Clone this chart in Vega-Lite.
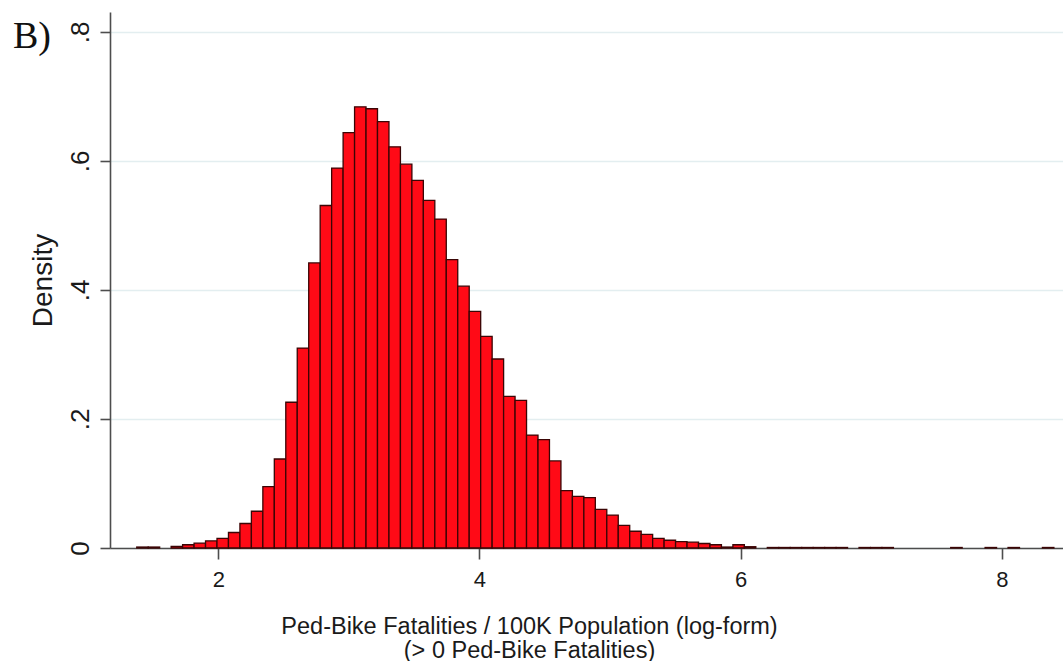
{
  "$schema": "https://vega.github.io/schema/vega-lite/v6.json",
  "width": 953,
  "height": 536,
  "autosize": "none",
  "padding": {"left": 110, "top": 12, "right": 0, "bottom": 113},
  "background": "white",
  "title": {
    "text": "B)",
    "font": "Liberation Serif",
    "fontSize": 38,
    "fontWeight": "normal",
    "color": "#111111",
    "anchor": "start",
    "frame": "group",
    "orient": "top",
    "baseline": "alphabetic",
    "dx": -97,
    "dy": 74,
    "offset": 0
  },
  "data": {
    "values": [
      {"lo": 1.3754, "hi": 1.4632, "density": 0.0015},
      {"lo": 1.4632, "hi": 1.551, "density": 0.0015},
      {"lo": 1.6388, "hi": 1.7266, "density": 0.0025},
      {"lo": 1.7266, "hi": 1.8144, "density": 0.005},
      {"lo": 1.8144, "hi": 1.9022, "density": 0.0075},
      {"lo": 1.9022, "hi": 1.99, "density": 0.011},
      {"lo": 1.99, "hi": 2.0778, "density": 0.015},
      {"lo": 2.0778, "hi": 2.1656, "density": 0.024},
      {"lo": 2.1656, "hi": 2.2534, "density": 0.038},
      {"lo": 2.2534, "hi": 2.3412, "density": 0.057},
      {"lo": 2.3412, "hi": 2.429, "density": 0.095},
      {"lo": 2.429, "hi": 2.5168, "density": 0.138},
      {"lo": 2.5168, "hi": 2.6046, "density": 0.226},
      {"lo": 2.6046, "hi": 2.6924, "density": 0.31},
      {"lo": 2.6924, "hi": 2.7802, "density": 0.442},
      {"lo": 2.7802, "hi": 2.868, "density": 0.531},
      {"lo": 2.868, "hi": 2.9558, "density": 0.589},
      {"lo": 2.9558, "hi": 3.0436, "density": 0.644},
      {"lo": 3.0436, "hi": 3.1314, "density": 0.684},
      {"lo": 3.1314, "hi": 3.2192, "density": 0.681},
      {"lo": 3.2192, "hi": 3.307, "density": 0.661},
      {"lo": 3.307, "hi": 3.3948, "density": 0.622},
      {"lo": 3.3948, "hi": 3.4826, "density": 0.595},
      {"lo": 3.4826, "hi": 3.5704, "density": 0.57},
      {"lo": 3.5704, "hi": 3.6582, "density": 0.539},
      {"lo": 3.6582, "hi": 3.746, "density": 0.51},
      {"lo": 3.746, "hi": 3.8338, "density": 0.447},
      {"lo": 3.8338, "hi": 3.9216, "density": 0.406},
      {"lo": 3.9216, "hi": 4.0094, "density": 0.367},
      {"lo": 4.0094, "hi": 4.0972, "density": 0.328},
      {"lo": 4.0972, "hi": 4.185, "density": 0.293},
      {"lo": 4.185, "hi": 4.2728, "density": 0.235},
      {"lo": 4.2728, "hi": 4.3606, "density": 0.229},
      {"lo": 4.3606, "hi": 4.4484, "density": 0.175},
      {"lo": 4.4484, "hi": 4.5362, "density": 0.168},
      {"lo": 4.5362, "hi": 4.624, "density": 0.135},
      {"lo": 4.624, "hi": 4.7118, "density": 0.089},
      {"lo": 4.7118, "hi": 4.7996, "density": 0.08},
      {"lo": 4.7996, "hi": 4.8874, "density": 0.078},
      {"lo": 4.8874, "hi": 4.9752, "density": 0.06},
      {"lo": 4.9752, "hi": 5.063, "density": 0.051},
      {"lo": 5.063, "hi": 5.1508, "density": 0.035},
      {"lo": 5.1508, "hi": 5.2386, "density": 0.026},
      {"lo": 5.2386, "hi": 5.3264, "density": 0.021},
      {"lo": 5.3264, "hi": 5.4142, "density": 0.015},
      {"lo": 5.4142, "hi": 5.502, "density": 0.012},
      {"lo": 5.502, "hi": 5.5898, "density": 0.01},
      {"lo": 5.5898, "hi": 5.6776, "density": 0.009},
      {"lo": 5.6776, "hi": 5.7654, "density": 0.007},
      {"lo": 5.7654, "hi": 5.8532, "density": 0.005},
      {"lo": 5.8532, "hi": 5.941, "density": 0.0015},
      {"lo": 5.941, "hi": 6.0288, "density": 0.005},
      {"lo": 6.0288, "hi": 6.1166, "density": 0.002},
      {"lo": 6.2044, "hi": 6.2922, "density": 0.0008},
      {"lo": 6.2922, "hi": 6.38, "density": 0.0008},
      {"lo": 6.38, "hi": 6.4678, "density": 0.0008},
      {"lo": 6.4678, "hi": 6.5556, "density": 0.0008},
      {"lo": 6.5556, "hi": 6.6434, "density": 0.0008},
      {"lo": 6.6434, "hi": 6.7312, "density": 0.0008},
      {"lo": 6.7312, "hi": 6.819, "density": 0.0008},
      {"lo": 6.9068, "hi": 6.9946, "density": 0.0008},
      {"lo": 6.9946, "hi": 7.0824, "density": 0.0008},
      {"lo": 7.0824, "hi": 7.1702, "density": 0.0008},
      {"lo": 7.609, "hi": 7.6968, "density": 0.0008},
      {"lo": 7.8724, "hi": 7.9602, "density": 0.0008},
      {"lo": 8.048, "hi": 8.1358, "density": 0.0008},
      {"lo": 8.3114, "hi": 8.3992, "density": 0.0008}
    ]
  },
  "mark": {"type": "bar", "fill": "#ff0a16", "stroke": "#3a0505", "strokeWidth": 1.3, "opacity": 1},
  "encoding": {
    "x": {
      "field": "lo",
      "type": "quantitative",
      "scale": {"domain": [1.1706, 8.469], "nice": false, "zero": false},
      "axis": {
        "values": [2, 4, 6, 8],
        "format": "d",
        "grid": false,
        "domainColor": "#4d4d4d",
        "domainWidth": 1.6,
        "tickColor": "#4d4d4d",
        "tickWidth": 1.6,
        "tickSize": 11,
        "labelPadding": 10,
        "labelFont": "Liberation Sans",
        "labelFontSize": 22,
        "labelColor": "#1a1a1a",
        "title": ["Ped-Bike Fatalities / 100K Population (log-form)", "(> 0 Ped-Bike Fatalities)"],
        "titleFont": "Liberation Sans",
        "titleFontSize": 23.5,
        "titleFontWeight": "normal",
        "titleColor": "#1a1a1a",
        "titleLineHeight": 24,
        "titleBaseline": "alphabetic",
        "titleAlign": "center",
        "titleX": 419,
        "titleY": 85
      }
    },
    "x2": {"field": "hi"},
    "y": {
      "field": "density",
      "type": "quantitative",
      "scale": {"domain": [0, 0.831], "nice": false},
      "axis": {
        "values": [0, 0.2, 0.4, 0.6, 0.8],
        "labelExpr": "datum.value == 0 ? '0' : replace(format(datum.value, '.1f'), '0.', '.')",
        "grid": true,
        "gridColor": "#e3eef0",
        "gridWidth": 1.6,
        "domainColor": "#4d4d4d",
        "domainWidth": 1.6,
        "tickColor": "#4d4d4d",
        "tickWidth": 1.6,
        "tickSize": 10,
        "labelAngle": -90,
        "labelAlign": "center",
        "labelBaseline": "alphabetic",
        "labelPadding": 12,
        "labelFont": "Liberation Sans",
        "labelFontSize": 26,
        "labelColor": "#1a1a1a",
        "title": "Density",
        "titleFont": "Liberation Sans",
        "titleFontSize": 28,
        "titleFontWeight": "normal",
        "titleColor": "#1a1a1a",
        "titleAngle": -90,
        "titleAlign": "center",
        "titleBaseline": "alphabetic",
        "titleX": -59,
        "titleY": 268
      }
    },
    "y2": {"datum": 0}
  },
  "config": {"view": {"stroke": null}}
}
